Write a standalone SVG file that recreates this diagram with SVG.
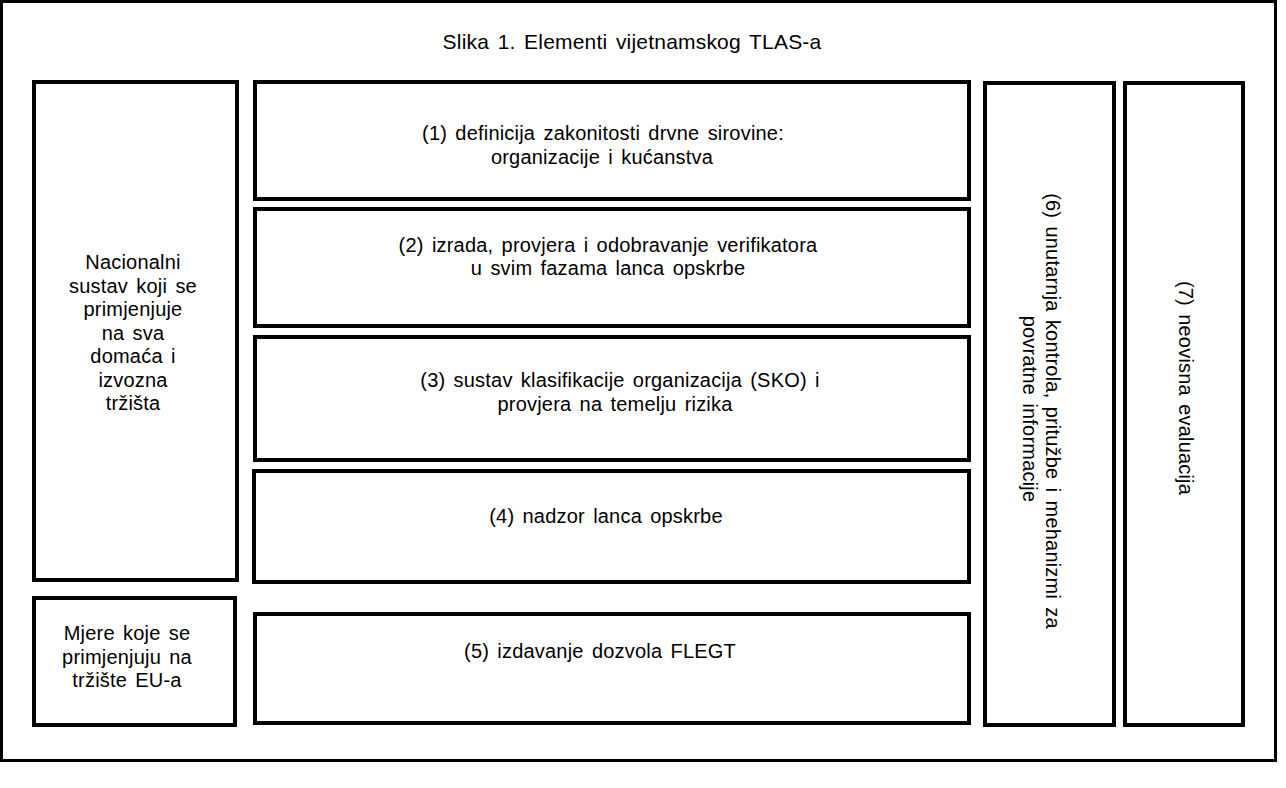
<svg xmlns="http://www.w3.org/2000/svg" width="1286" height="788" viewBox="0 0 1286 788">
<style>
.box{fill:#fff;stroke:#000;stroke-width:4}
.frame{fill:#fff;stroke:#000;stroke-width:3}
text{font-family:"Liberation Sans",Arial,Helvetica,sans-serif;font-size:20px;fill:#000;text-anchor:middle;word-spacing:2.5px;letter-spacing:0.2px}
.title{font-size:21px}
</style>
<rect width="1286" height="788" fill="#fff"/>
<g id="frame">
<rect class="frame" x="1.5" y="1.5" width="1274" height="759"/>
<text class="title" x="632" y="49">Slika 1. Elementi vijetnamskog TLAS-a</text>
</g>
<g id="national">
<rect class="box" x="34" y="82" width="203" height="498"/>
<text x="133" y="269">Nacionalni</text>
<text x="133" y="292.5">sustav koji se</text>
<text x="133" y="316">primjenjuje</text>
<text x="133" y="339.5">na sva</text>
<text x="133" y="363">domaća i</text>
<text x="133" y="386.5">izvozna</text>
<text x="133" y="410">tržišta</text>
</g>
<g id="eu">
<rect class="box" x="34" y="598" width="201" height="127"/>
<text x="127" y="640">Mjere koje se</text>
<text x="127" y="663.5">primjenjuju na</text>
<text x="127" y="687">tržište EU-a</text>
</g>
<g id="n1">
<rect class="box" x="255" y="82" width="714" height="117"/>
<text x="603" y="140">(1) definicija zakonitosti drvne sirovine:</text>
<text x="602" y="164">organizacije i kućanstva</text>
</g>
<g id="n2">
<rect class="box" x="255" y="209" width="714" height="117"/>
<text x="608" y="252">(2) izrada, provjera i odobravanje verifikatora</text>
<text x="608" y="275">u svim fazama lanca opskrbe</text>
</g>
<g id="n3">
<rect class="box" x="255" y="337" width="714" height="123"/>
<text x="620" y="387">(3) sustav klasifikacije organizacija (SKO) i</text>
<text x="615" y="411">provjera na temelju rizika</text>
</g>
<g id="n4">
<rect class="box" x="254" y="471" width="715" height="111"/>
<text x="606" y="523">(4) nadzor lanca opskrbe</text>
</g>
<g id="n5">
<rect class="box" x="255" y="614" width="714" height="109"/>
<text x="600" y="658">(5) izdavanje dozvola FLEGT</text>
</g>
<g id="n6">
<rect class="box" x="985" y="83" width="129" height="642"/>
<text transform="translate(1046,411) rotate(90)">(6) unutarnja kontrola, pritužbe i mehanizmi za</text>
<text transform="translate(1023,409) rotate(90)">povratne informacije</text>
</g>
<g id="n7">
<rect class="box" x="1125" y="83" width="118" height="642"/>
<text transform="translate(1179,388) rotate(90)">(7) neovisna evaluacija</text>
</g>
<g id="connectors"/>
</svg>
